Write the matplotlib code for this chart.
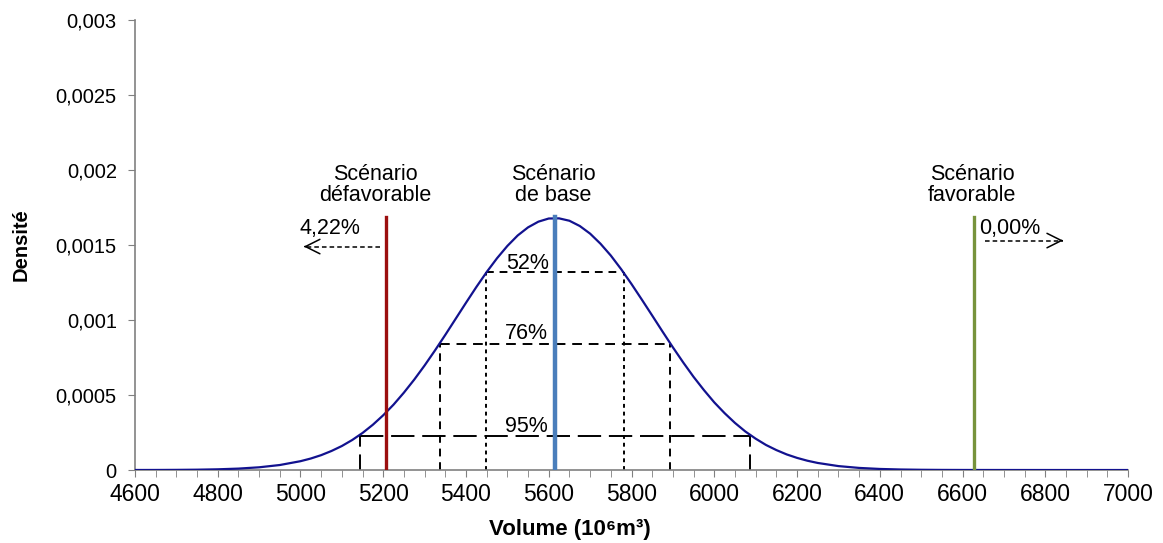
import matplotlib
matplotlib.use("Agg")
import matplotlib.pyplot as plt
from matplotlib.ticker import MultipleLocator, FuncFormatter

plt.rcParams['font.family'] = ['Liberation Sans', 'DejaVu Sans']

# Density curve
vol = [4600, 4650, 4700, 4750, 4800, 4850, 4900, 4950, 5000, 5025, 5050, 5075,
       5100, 5125, 5150, 5175, 5200, 5225, 5250, 5275, 5300, 5325, 5350, 5375,
       5400, 5425, 5450, 5475, 5500, 5525, 5550, 5575, 5600, 5625, 5650, 5675,
       5700, 5725, 5750, 5775, 5800, 5825, 5850, 5875, 5900, 5925, 5950, 5975,
       6000, 6025, 6050, 6075, 6100, 6125, 6150, 6175, 6200, 6225, 6250, 6300,
       6350, 6400, 6450, 6500, 6550, 6600, 6700, 6800, 6900, 7000]
dens = [0.0000002, 0.0000004, 0.000001, 0.0000022, 0.0000047, 0.0000094,
        0.0000181, 0.0000333, 0.0000588, 0.0000767, 0.0000991, 0.000127,
        0.000160, 0.000200, 0.000247, 0.000302, 0.000365, 0.000436, 0.000516,
        0.000603, 0.000697, 0.000797, 0.000901, 0.001008, 0.001115, 0.001220,
        0.001320, 0.001412, 0.001494, 0.001564, 0.001618, 0.001656, 0.001677,
        0.001678, 0.001662, 0.001627, 0.001576, 0.001509, 0.001430, 0.001339,
        0.001240, 0.001136, 0.001030, 0.000923, 0.000818, 0.000717, 0.000621,
        0.000533, 0.000451, 0.000379, 0.000314, 0.000257, 0.000209, 0.000167,
        0.000133, 0.000104, 0.0000809, 0.000062, 0.0000471, 0.0000262,
        0.000014, 0.0000071, 0.0000035, 0.0000016, 0.0000007, 0.0000003,
        0.0000001, 0.0, 0.0, 0.0]

# Scenario lines
scen_x = [5207, 5615, 6628]
scen_top = 0.00169
scen_labels = ["Scénario\ndéfavorable", "Scénario\nde base", "Scénario\nfavorable"]
scen_colors = ["#9B0F0F", "#4A7EBB", "#77933C"]

# Confidence intervals
ci_labels = ["52%", "76%", "95%"]
ci_low = [5448, 5337, 5143]
ci_high = [5781, 5892, 6087]
ci_dens = [0.00132, 0.00084, 0.000227]

# Tail probabilities
tail_labels = ["4,22%", "0,00%"]

FS = 15.5

fig = plt.figure(figsize=(11.63, 5.43), dpi=100)
ax = fig.add_axes([0.116, 0.1344, 0.854, 0.8286])

ax.plot(vol, dens, color="#12128F", lw=1.6, zorder=3)

# interval boxes
h_styles = [(0, (4, 3)), (0, (5, 3.5)), (0, (12, 4))]
v_styles = [(0, (2, 2)), (0, (4, 3)), (0, (8, 4))]
for lo, hi, d, hs, vs in zip(ci_low, ci_high, ci_dens, h_styles, v_styles):
    ax.plot([lo, hi], [d, d], color="black", lw=1.4, linestyle=hs, zorder=2)
    ax.plot([lo, lo], [0, d], color="black", lw=1.4, linestyle=vs, zorder=2)
    ax.plot([hi, hi], [0, d], color="black", lw=1.4, linestyle=vs, zorder=2)

ax.text(5550, 0.00138, ci_labels[0], ha="center", va="center", fontsize=FS, zorder=4)
ax.text(5547, 0.000913, ci_labels[1], ha="center", va="center", fontsize=FS, zorder=4)
ax.text(5547, 0.000287, ci_labels[2], ha="center", va="center", fontsize=FS, zorder=4)

widths = [2.4, 3.2, 2.4]
for x, c, w in zip(scen_x, scen_colors, widths):
    ax.plot([x, x], [0, scen_top], color=c, lw=w, zorder=4)
ax.text(5180, 0.0019, scen_labels[0], ha="center", va="center", fontsize=FS, linespacing=1.05)
ax.text(5610, 0.0019, scen_labels[1], ha="center", va="center", fontsize=FS, linespacing=1.05)
ax.text(6623, 0.0019, scen_labels[2], ha="center", va="center", fontsize=FS, linespacing=1.05)


def dashed_arrow(x0, x1, y):
    ax.plot([x0, x1], [y, y], color="black", lw=1.1, linestyle=(0, (3, 2)))
    step = (x1 - x0) * 0.02
    ax.annotate("", xy=(x1, y), xytext=(x1 - step, y),
                arrowprops=dict(arrowstyle="->", color="black", lw=1.1,
                                mutation_scale=26, shrinkA=0, shrinkB=0))


# tail arrows
ax.text(5071, 0.00161, tail_labels[0], ha="center", va="center", fontsize=FS)
dashed_arrow(5192, 5008, 0.00149)
ax.text(6715, 0.00161, tail_labels[1], ha="center", va="center", fontsize=FS)
dashed_arrow(6654, 6843, 0.00153)

ax.set_xlim(4600, 7000)
ax.set_ylim(0, 0.003)
ax.xaxis.set_major_locator(MultipleLocator(200))
ax.xaxis.set_minor_locator(MultipleLocator(50))
ax.yaxis.set_major_locator(MultipleLocator(0.0005))
ax.yaxis.set_major_formatter(FuncFormatter(lambda v, p: ("%g" % round(v, 4)).replace(".", ",")))

for s in ["top", "right"]:
    ax.spines[s].set_visible(False)
for s in ["left", "bottom"]:
    ax.spines[s].set_color("#808080")
    ax.spines[s].set_linewidth(1.2)
ax.tick_params(axis="x", which="major", direction="out", length=5, color="#808080",
               labelsize=16.5, pad=4)
ax.tick_params(axis="x", which="minor", direction="out", length=5, color="#808080")
ax.tick_params(axis="y", which="major", direction="out", length=5, color="#808080",
               labelsize=14.5, pad=8)

fig.text(0.49, 0.024, "Volume (10⁶m³)", ha="center", va="center", fontsize=16,
         fontweight="bold")
fig.text(0.018, 0.55, "Densité", ha="center", va="center", rotation=90, fontsize=14.5,
         fontweight="bold", family=["Liberation Sans Narrow", "Liberation Sans", "DejaVu Sans"])

fig.savefig("out.png", dpi=100)
